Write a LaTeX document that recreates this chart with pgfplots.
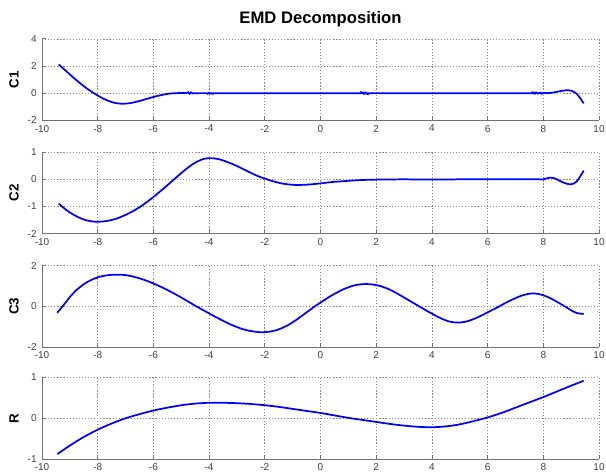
\documentclass[border=0pt]{standalone}
\usepackage{pgfplots}
\pgfplotsset{compat=1.18}
\usepackage{fontspec}
\setmainfont{Liberation Sans}
\definecolor{axgray}{gray}{0.45}
\definecolor{gridgray}{gray}{0.55}
\pgfplotsset{
  emd/.style={
    scale only axis, width=417.75pt, height=61.1pt,
    anchor=south west,
    xmin=-10, xmax=10,
    xtick={-10,-8,...,10},
    axis lines=left,
    axis line style={-, axgray, line width=0.7pt},
    tick align=inside,
    major tick length=3pt,
    tick style={axgray, line width=0.6pt},
    xmajorgrids, ymajorgrids,
    major grid style={gridgray, line width=0.5pt, dash pattern=on 0.9pt off 1.4pt},
    tick label style={font=\fontsize{7.5}{9}\selectfont, text=black!75},
    /pgf/number format/assume math mode=true,
    yticklabel style={xshift=-0.5pt},
    ylabel style={font=\fontsize{10}{12}\selectfont\bfseries, at={(axis description cs:-0.05,0.5)}, anchor=center, rotate=0},
    every axis plot/.append style={blue, line width=1.3pt},
  }
}
\begin{document}
\begin{tikzpicture}
\useasboundingbox (0,0) rectangle (454.5pt,354.75pt);
% C1
\begin{axis}[emd, at={(31.5pt,264.5pt)}, ymin=-2, ymax=4, ytick={-2,0,2,4}, ylabel={C1},
  title={EMD Decomposition}, title style={font=\fontsize{12.5}{15}\selectfont\bfseries, at={(0.5,1)}, anchor=south, yshift=-0.5pt}]
\addplot[smooth] coordinates {
(-9.4,2.12) (-9.2,1.75) (-9.0,1.38) (-8.8,1.02) (-8.6,0.68) (-8.4,0.36) (-8.2,0.08)
(-8.0,-0.17) (-7.8,-0.40) (-7.6,-0.58) (-7.4,-0.71) (-7.2,-0.77) (-7.0,-0.77) (-6.8,-0.72)
(-6.6,-0.63) (-6.4,-0.52) (-6.2,-0.40) (-6.0,-0.28) (-5.8,-0.18) (-5.6,-0.09) (-5.4,-0.03)
(-5.2,0.0) (-5.0,0.01) (-4.8,0.01) (-4.75,0.07) (-4.7,-0.04) (-4.65,0.06) (-4.6,-0.02)
(-4.5,0.0) (-4.1,0.0) (-4.05,-0.04) (-4.0,0.03) (-3.95,-0.03) (-3.9,0.0)
(-2,0.0) (0,0.0) (1.45,0.0) (1.5,0.05) (1.55,-0.05) (1.6,0.05) (1.65,-0.04) (1.7,0.0)
(3,0.0) (5,0.0) (7.6,0.0) (7.65,0.05) (7.7,-0.04) (7.75,0.05) (7.8,-0.03) (7.9,0.04)
(7.95,-0.05) (8.0,0.03) (8.1,0.0) (8.3,0.03) (8.5,0.10) (8.7,0.18) (8.85,0.22)
(9.0,0.18) (9.1,0.10) (9.2,-0.05) (9.3,-0.30) (9.45,-0.75)
};
\end{axis}
% C2
\begin{axis}[emd, at={(31.5pt,179.5pt)}, ymin=-2, ymax=1, ytick={-2,-1,0,1}, ylabel={C2}]
\addplot[smooth] coordinates {
(-9.4,-0.89) (-9.2,-1.07) (-9.0,-1.22) (-8.8,-1.34) (-8.6,-1.44) (-8.4,-1.51) (-8.2,-1.55)
(-8.0,-1.56) (-7.8,-1.55) (-7.6,-1.52) (-7.4,-1.47) (-7.2,-1.40) (-7.0,-1.31) (-6.8,-1.21)
(-6.6,-1.09) (-6.4,-0.96) (-6.2,-0.81) (-6.0,-0.65) (-5.8,-0.48) (-5.6,-0.31) (-5.4,-0.13)
(-5.2,0.05) (-5.0,0.23) (-4.8,0.40) (-4.6,0.55) (-4.4,0.67) (-4.2,0.75) (-4.0,0.78)
(-3.8,0.77) (-3.6,0.73) (-3.4,0.66) (-3.2,0.58) (-3.0,0.49) (-2.8,0.39) (-2.6,0.29)
(-2.4,0.19) (-2.2,0.10) (-2.0,0.03) (-1.8,-0.04) (-1.6,-0.10) (-1.4,-0.15) (-1.2,-0.18)
(-1.0,-0.20) (-0.8,-0.21) (-0.6,-0.20) (-0.4,-0.19) (-0.2,-0.17) (0,-0.15) (0.4,-0.10)
(0.8,-0.07) (1.2,-0.04) (1.6,-0.02) (2,-0.01) (3,0.0) (4,-0.01) (5,0.0) (6,0.0) (7,0.0)
(7.8,0.0) (8.0,0.0) (8.2,0.06) (8.4,0.04) (8.6,-0.06) (8.8,-0.15) (9.0,-0.18) (9.2,-0.08) (9.45,0.32)
};
\end{axis}
% C3
\begin{axis}[emd, at={(31.5pt,94.5pt)}, ymin=-2, ymax=2, ytick={-2,0,2}, ylabel={C3}]
\addplot[smooth] coordinates {
(-9.45,-0.32) (-9.2,0.10) (-9.0,0.45) (-8.8,0.75) (-8.6,0.98) (-8.4,1.17) (-8.2,1.31)
(-8.0,1.42) (-7.8,1.49) (-7.6,1.53) (-7.4,1.55) (-7.2,1.55) (-7.0,1.53) (-6.8,1.48)
(-6.6,1.41) (-6.4,1.33) (-6.2,1.23) (-6.0,1.12) (-5.8,1.00) (-5.6,0.87) (-5.4,0.73)
(-5.2,0.58) (-5.0,0.43) (-4.8,0.27) (-4.6,0.11) (-4.4,-0.05) (-4.2,-0.20) (-4.0,-0.35)
(-3.8,-0.50) (-3.6,-0.64) (-3.4,-0.78) (-3.2,-0.91) (-3.0,-1.02) (-2.8,-1.12) (-2.6,-1.19)
(-2.4,-1.24) (-2.2,-1.27) (-2.0,-1.27) (-1.8,-1.24) (-1.6,-1.18) (-1.4,-1.08) (-1.2,-0.95)
(-1.0,-0.79) (-0.8,-0.60) (-0.6,-0.40) (-0.4,-0.20) (-0.2,0.0) (0.0,0.18) (0.2,0.36)
(0.4,0.53) (0.6,0.68) (0.8,0.82) (1.0,0.93) (1.2,1.02) (1.4,1.07) (1.6,1.09) (1.8,1.08)
(2.0,1.04) (2.2,0.97) (2.4,0.87) (2.6,0.74) (2.8,0.59) (3.0,0.43) (3.2,0.27) (3.4,0.11)
(3.6,-0.05) (3.8,-0.21) (4.0,-0.36) (4.2,-0.51) (4.4,-0.64) (4.6,-0.74) (4.8,-0.79)
(5.0,-0.80) (5.2,-0.76) (5.4,-0.68) (5.6,-0.57) (5.8,-0.44) (6.0,-0.30) (6.2,-0.16)
(6.4,-0.02) (6.6,0.13) (6.8,0.27) (7.0,0.40) (7.2,0.51) (7.4,0.59) (7.6,0.63) (7.8,0.61)
(8.0,0.54) (8.2,0.43) (8.4,0.29) (8.6,0.13) (8.8,-0.03) (9.0,-0.20) (9.2,-0.33) (9.45,-0.38)
};
\end{axis}
% R
\begin{axis}[emd, at={(31.5pt,10.5pt)}, ymin=-1, ymax=1, ytick={-1,0,1}, ylabel={R}]
\addplot[smooth] coordinates {
(-9.45,-0.88) (-9.0,-0.67) (-8.5,-0.46) (-8.0,-0.28) (-7.5,-0.13) (-7.0,0.0) (-6.5,0.10)
(-6.0,0.19) (-5.5,0.26) (-5.0,0.32) (-4.5,0.36) (-4.0,0.38) (-3.5,0.38) (-3.0,0.37)
(-2.5,0.35) (-2.0,0.32) (-1.5,0.28) (-1.0,0.23) (-0.5,0.18) (0,0.13) (0.5,0.07)
(1.0,0.01) (1.5,-0.04) (2.0,-0.09) (2.5,-0.14) (3.0,-0.18) (3.5,-0.21) (4.0,-0.22)
(4.5,-0.20) (5.0,-0.15) (5.5,-0.07) (6.0,0.02) (6.5,0.13) (7.0,0.26) (7.5,0.39)
(8.0,0.52) (8.5,0.66) (9.0,0.80) (9.45,0.92)
};
\end{axis}
\end{tikzpicture}
\end{document}
